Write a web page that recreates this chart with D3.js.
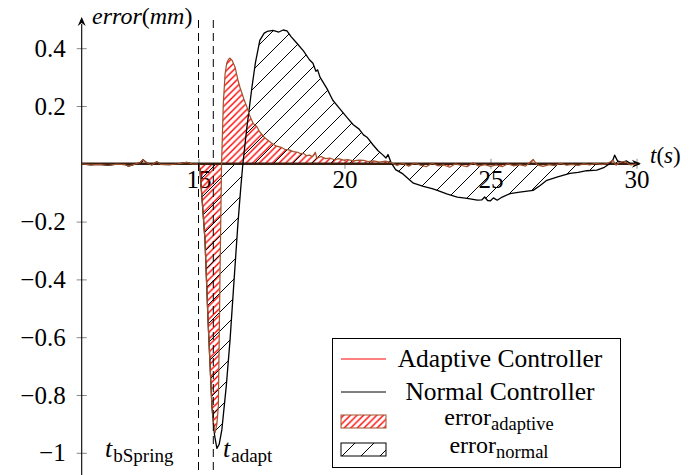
<!DOCTYPE html>
<html>
<head>
<meta charset="utf-8">
<script src="https://cdn.jsdelivr.net/npm/d3@7"></script>
<style>
  html, body { margin: 0; padding: 0; background: #fff; }
  svg { display: block; }
  svg text { font-family: "Liberation Serif", "DejaVu Serif", serif; }
</style>
</head>
<body>
<div id="chart"></div>
<script>
// ---------- data ----------
const tNormal = [11.0, 11.3, 11.6, 11.9, 12.2, 12.5, 12.6, 12.8, 13.0, 13.1, 13.25, 13.4, 13.57, 13.7, 14.0, 14.3, 14.6, 14.8, 15.0,
  15.05, 15.22, 15.33, 15.46, 15.55, 15.63, 15.71, 15.80, 15.95, 16.08, 16.22, 16.35, 16.45, 16.52, 16.65, 16.83, 16.95, 17.1,
  17.25, 17.35, 17.55, 17.75, 17.9, 18.03, 18.17, 18.37, 18.6, 18.8, 18.92, 19.02, 19.08, 19.16, 19.4, 19.6, 19.8, 20.09, 20.3,
  20.5, 20.65, 20.77, 20.98, 21.15, 21.32, 21.42, 21.49, 21.6, 21.75, 22.0, 22.36, 22.7, 23.0, 23.18, 23.5, 23.86, 24.2, 24.55,
  24.7, 24.8, 24.9, 25.0, 25.1, 25.23, 25.4, 25.67, 26.0, 26.46, 26.7, 26.93, 27.3, 27.72, 28.0, 28.3, 28.64, 28.9, 29.08, 29.2,
  29.25, 29.35, 29.5, 29.66, 29.8, 30.0];
const vNormal = [0.000, -0.004, -0.002, -0.005, -0.001, -0.003, -0.008, -0.002, 0.004, 0.014, 0.002, -0.004, 0.007, -0.002, -0.003, 0.000, 0.005, -0.001, 0.000,
  -0.02, -0.26, -0.55, -0.84, -0.94, -0.985, -0.97, -0.92, -0.77, -0.61, -0.40, -0.207, -0.08, 0.0, 0.12, 0.265, 0.35, 0.427,
  0.452, 0.458, 0.462, 0.456, 0.463, 0.46, 0.44, 0.417, 0.39, 0.36, 0.348, 0.32, 0.325, 0.30, 0.26, 0.22, 0.195, 0.16, 0.135,
  0.12, 0.10, 0.092, 0.065, 0.045, 0.03, 0.02, 0.032, 0.003, -0.02, -0.035, -0.067, -0.078, -0.086, -0.092, -0.104, -0.115, -0.12, -0.126,
  -0.125, -0.115, -0.127, -0.128, -0.118, -0.126, -0.115, -0.103, -0.098, -0.092, -0.075, -0.057, -0.045, -0.033, -0.030, -0.024, -0.022, -0.012, 0.0, 0.015,
  0.03, 0.01, 0.005, 0.01, 0.0, 0.0];

const tAdaptive = [11.0, 11.3, 11.6, 11.9, 12.2, 12.5, 12.6, 12.8, 13.0, 13.1, 13.25, 13.4, 13.57, 13.7, 14.0, 14.3, 14.6, 14.8, 15.0,
  15.05, 15.22, 15.33, 15.46, 15.52, 15.57, 15.63, 15.68, 15.71, 15.74, 15.79, 15.85, 15.91, 15.97, 16.03, 16.08, 16.15, 16.25,
  16.35, 16.42, 16.55, 16.66, 16.76, 16.87, 17.0, 17.1, 17.25, 17.4, 17.5, 17.65, 17.83, 17.95, 18.1, 18.25, 18.4, 18.5, 18.6,
  18.7, 18.8, 18.9, 19.0, 19.05, 19.2, 19.35, 19.5, 19.65, 19.8, 20.0, 20.1, 20.3, 20.5, 20.66, 20.8, 21.0, 21.2, 21.4, 21.6,
  21.8, 22.0, 22.2, 22.4, 22.6, 22.8, 23.0, 23.2, 23.4, 23.6, 23.8, 24.0, 24.2, 24.4, 24.6, 24.8, 25.0, 25.2, 25.4, 25.6, 25.8,
  26.0, 26.2, 26.46, 26.6, 26.8, 27.0, 27.2, 27.4, 27.6, 27.8, 28.0, 28.2, 28.4, 28.6, 28.8, 29.0, 29.2, 29.3, 29.4, 29.6, 29.8, 30.0];
const vAdaptive = [0.000, -0.004, -0.002, -0.005, -0.001, -0.003, -0.008, -0.002, 0.004, 0.014, 0.002, -0.004, 0.007, -0.002, -0.003, 0.000, 0.005, -0.001, 0.000,
  -0.02, -0.26, -0.55, -0.84, -0.91, -0.93, -0.90, -0.84, -0.60, -0.36, 0.0, 0.21, 0.31, 0.35, 0.362, 0.366, 0.358, 0.335,
  0.29, 0.265, 0.225, 0.196, 0.165, 0.14, 0.128, 0.11, 0.092, 0.08, 0.072, 0.062, 0.057, 0.05, 0.048, 0.042, 0.04, 0.035, 0.036,
  0.028, 0.03, 0.025, 0.04, 0.02, 0.025, 0.018, 0.02, 0.014, 0.018, 0.012, 0.015, 0.01, 0.013, 0.012, 0.008, 0.01, 0.006, 0.009, 0.004,
  -0.006, 0.002, -0.008, 0.003, -0.005, -0.01, 0.002, -0.007, -0.004, -0.012, 0.0, -0.006, -0.01, 0.004, -0.008, -0.003, -0.009, -0.004, -0.01, 0.0, -0.007,
  -0.003, -0.008, 0.015, -0.004, -0.009, -0.003, -0.006, 0.002, -0.005, -0.002, -0.006, 0.0, -0.004, 0.002, -0.003, 0.001, 0.012, -0.005, 0.004, 0.008, -0.004, 0.0];

const xTicks = [15, 20, 25, 30];
const yTicks = [0.4, 0.2, -0.2, -0.4, -0.6, -0.8, -1];
const eventTimes = [15.0, 15.507];
const eventNames = ["bSpring", "adapt"];
const legendLabels = ["Adaptive Controller", "Normal Controller"];
const legendAreaMain = ["error", "error"];
const legendAreaSub = ["adaptive", "normal"];

// ---------- setup ----------
const W = 691, H = 475;
const serif = "Liberation Serif, DejaVu Serif, serif";
const brown = "#a0522d";
const svg = d3.select("#chart").append("svg").attr("width", W).attr("height", H)
  .attr("font-family", serif);

const x = d3.scaleLinear().domain([15, 30]).range([198.5, 636.5]);
const y = d3.scaleLinear().domain([0, -1]).range([163.8, 452.8]);
const x0 = x(11.0);

const defs = svg.append("defs");
function hatch(id, w, color, sw) {
  const p = defs.append("pattern").attr("id", id).attr("patternUnits", "userSpaceOnUse")
    .attr("width", w).attr("height", w);
  p.append("path").attr("d", `M0,${w} L${w},0 M${-w/4},${w/4} L${w/4},${-w/4} M${w*3/4},${w*5/4} L${w*5/4},${w*3/4}`)
    .attr("stroke", color).attr("stroke-width", sw).attr("fill", "none");
}
hatch("hatchRed", 6.6, "#ff0000", 1.35);
hatch("hatchBlack", 19, "#000", 1);

const adaptive = tAdaptive.map((t, i) => [t, vAdaptive[i]]);
const normal = tNormal.map((t, i) => [t, vNormal[i]]);

// ---------- axes (labels drawn first) ----------
const fmt = d => Number.isInteger(d) ? d3.format("d")(d) : d3.format(".1f")(d);
const gy = svg.append("g").attr("transform", `translate(${x0},0)`)
  .call(d3.axisLeft(y).tickValues(yTicks).tickSize(0).tickPadding(16).tickFormat(fmt));
gy.attr("font-family", null).attr("font-size", null);
gy.select(".domain").remove();
gy.selectAll(".tick text").style("font-size", "25px").attr("fill", "#000");
gy.selectAll(".tick").append("line").attr("x1", -5).attr("x2", 5).attr("stroke", "#888").attr("stroke-width", 1);

const gx = svg.append("g").attr("transform", `translate(0,${y(0)})`)
  .call(d3.axisBottom(x).tickValues(xTicks).tickSize(0).tickPadding(6).tickFormat(d3.format("d")));
gx.attr("font-family", null).attr("font-size", null);
gx.select(".domain").remove();
gx.selectAll(".tick text").style("font-size", "25px").attr("fill", "#000");
gx.selectAll(".tick").append("line").attr("y1", -5).attr("y2", 5).attr("stroke", "#888").attr("stroke-width", 1);

// ---------- areas ----------
const area = d3.area().x(d => x(d[0])).y0(y(0)).y1(d => y(d[1]));
const line = d3.line().x(d => x(d[0])).y(d => y(d[1]));

svg.append("path").datum(adaptive).attr("d", area).attr("fill", "url(#hatchRed)");
svg.append("path").datum(normal).attr("d", area).attr("fill", "url(#hatchBlack)");

// axis lines
svg.append("line").attr("x1", x0).attr("x2", x(30.1)).attr("y1", y(0)).attr("y2", y(0))
  .attr("stroke", "#3a1f10").attr("stroke-width", 2.4);
svg.append("path").attr("d", `M${x(30.15)},${y(0)} L${x(30.15)-9},${y(0)-4} L${x(30.15)-6},${y(0)} L${x(30.15)-9},${y(0)+4} Z`)
  .attr("fill", "#000");
svg.append("line").attr("x1", x0).attr("x2", x0).attr("y1", H).attr("y2", 24)
  .attr("stroke", "#000").attr("stroke-width", 1.1);
svg.append("path").attr("d", `M${x0},17 L${x0-4},26 L${x0},23 L${x0+4},26 Z`).attr("fill", "#000");

// lines
svg.append("path").datum(normal).attr("d", line).attr("fill", "none").attr("stroke", "#000").attr("stroke-width", 1.3)
  .attr("stroke-linejoin", "round");
svg.append("path").datum(adaptive).attr("d", line).attr("fill", "none").attr("stroke", brown).attr("stroke-width", 1.2)
  .attr("stroke-linejoin", "round");

// event lines
eventTimes.forEach(t => {
  svg.append("line").attr("x1", x(t)).attr("x2", x(t)).attr("y1", 20).attr("y2", H)
    .attr("stroke", "#000").attr("stroke-width", 1).attr("stroke-dasharray", "8,5");
});

// event labels
const evLabelX = [105, 223];
eventNames.forEach((n, i) => {
  const t = svg.append("text").attr("x", evLabelX[i]).attr("y", 457).style("font-size", "26px");
  t.append("tspan").attr("font-style", "italic").text("t");
  t.append("tspan").style("font-size", "19px").attr("dy", 5).attr("dx", 1).text(n);
});

// axis titles
const ylab = svg.append("text").attr("x", 92).attr("y", 24).style("font-size", "24px");
ylab.append("tspan").attr("font-style", "italic").text("error");
ylab.append("tspan").text("(");
ylab.append("tspan").attr("font-style", "italic").text("mm");
ylab.append("tspan").text(")");

const xlab = svg.append("text").attr("x", 650).attr("y", 163).style("font-size", "23px");
xlab.append("tspan").attr("font-style", "italic").text("t");
xlab.append("tspan").text("(");
xlab.append("tspan").attr("font-style", "italic").text("s");
xlab.append("tspan").text(")");

// ---------- legend ----------
const lg = svg.append("g");
lg.append("rect").attr("x", 332.5).attr("y", 338.5).attr("width", 288).attr("height", 129)
  .attr("fill", "#fff").attr("stroke", "#000").attr("stroke-width", 1);
const lineColors = ["#ff0000", "#000"];
const lineY = [359, 392];
legendLabels.forEach((lab, i) => {
  lg.append("line").attr("x1", 341).attr("x2", 386).attr("y1", lineY[i]).attr("y2", lineY[i])
    .attr("stroke", lineColors[i]).attr("stroke-width", 1);
  lg.append("text").attr("x", 500).attr("y", lineY[i] + 8).attr("text-anchor", "middle")
    .style("font-size", "25.5px").text(lab);
});
const patchFill = ["url(#hatchRed)", "url(#hatchBlack)"];
const patchStroke = [brown, "#000"];
const patchY = [415, 443];
legendAreaMain.forEach((m, i) => {
  lg.append("rect").attr("x", 341).attr("y", patchY[i]).attr("width", 45).attr("height", 13)
    .attr("fill", "#fff");
  lg.append("rect").attr("x", 341).attr("y", patchY[i]).attr("width", 45).attr("height", 13)
    .attr("fill", patchFill[i]).attr("stroke", patchStroke[i]).attr("stroke-width", 1);
  const t = lg.append("text").attr("x", 499).attr("y", patchY[i] + 10).attr("text-anchor", "middle").style("font-size", "24px");
  t.append("tspan").text(m);
  t.append("tspan").style("font-size", "18.5px").attr("dy", 5).text(legendAreaSub[i]);
});
</script>
</body>
</html>
